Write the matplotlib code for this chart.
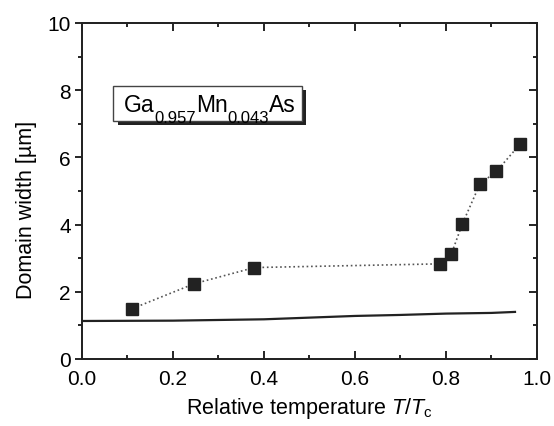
import numpy as np
import matplotlib.pyplot as plt
import matplotlib.patheffects as pe
from matplotlib.patches import Rectangle

# measured domain width vs relative temperature
t_meas = [0.111, 0.247, 0.379, 0.787, 0.812, 0.836, 0.875, 0.911, 0.963]
w_meas = [1.50, 2.24, 2.72, 2.83, 3.12, 4.01, 5.21, 5.58, 6.39]

# calculated curve (solid line)
t_calc = [0.0, 0.2, 0.4, 0.6, 0.7, 0.8, 0.9, 0.952]
w_calc = [1.13, 1.14, 1.18, 1.28, 1.31, 1.35, 1.37, 1.40]

# sample label pieces: (text, is_subscript)
label_parts = [('Ga', False), ('0.957', True), ('Mn', False), ('0.043', True), ('As', False)]

plt.rcParams['font.family'] = 'Liberation Sans'
plt.rcParams['mathtext.fontset'] = 'custom'
plt.rcParams['mathtext.rm'] = 'Liberation Sans'
plt.rcParams['mathtext.it'] = 'Liberation Sans:italic'

fig = plt.figure(figsize=(5.54, 4.27), dpi=100)
ax = fig.add_axes([0.148, 0.157, 0.821, 0.787])

ax.plot(t_meas, w_meas, ls=':', color='#555555', lw=1.2, marker='s',
        ms=9, mfc='#222222', mec='#222222', zorder=3)
ax.plot(t_calc, w_calc, '-', color='#222222', lw=1.6)

ax.set_xlim(0, 1.0)
ax.set_ylim(0, 10)
ax.set_xticks([0.0, 0.2, 0.4, 0.6, 0.8, 1.0])
ax.set_xticks(np.arange(0.1, 1.0, 0.2), minor=True)
ax.set_yticks([0, 2, 4, 6, 8, 10])
ax.set_yticks([1, 3, 5, 7, 9], minor=True)
ax.xaxis.set_major_formatter(plt.FormatStrFormatter('%.1f'))

ax.tick_params(axis='x', which='both', direction='in', top=True, labelsize=15, pad=7)
ax.tick_params(axis='x', which='major', length=6, width=1.2)
ax.tick_params(axis='x', which='minor', length=3, width=1.2)
ax.tick_params(axis='y', which='both', direction='out', labelsize=15, pad=3)
ax.tick_params(axis='y', which='major', length=5, width=1.2)
ax.tick_params(axis='y', which='minor', length=3, width=1.2)
# right axis ticks point inward
ax2 = ax.twinx()
ax2.set_ylim(0, 10)
ax2.set_yticks([0, 2, 4, 6, 8, 10])
ax2.set_yticks([1, 3, 5, 7, 9], minor=True)
ax2.tick_params(axis='y', which='both', direction='in', labelright=False, width=1.2)
ax2.tick_params(axis='y', which='major', length=6)
ax2.tick_params(axis='y', which='minor', length=3)

for a in (ax, ax2):
    for s in a.spines.values():
        s.set_linewidth(1.3)
        s.set_color('#222222')

ax.set_xlabel(r'Relative temperature $\it{T/T}_{\rm c}$', fontsize=15.5, labelpad=5)
ax.set_ylabel('Domain width [\u00b5m]', fontsize=15.5)
ax.yaxis.set_label_coords(-0.10, 0.446)

# framed sample label with drop shadow
box = Rectangle((0.068, 7.08), 0.415, 1.04, fc='white', ec='#444444', lw=1, zorder=4)
box.set_path_effects([pe.SimplePatchShadow(offset=(3.3, -3), shadow_rgbFace='#222222', alpha=1.0),
                      pe.Normal()])
ax.add_patch(box)

base_y = 7.39
prev = None
for txt, sub in label_parts:
    size = 12 if sub else 16.5
    dy = -8.4 if sub else 0
    if prev is None:
        prev = ax.text(0.092, base_y, txt, fontsize=size, ha='left', va='baseline', zorder=5)
    else:
        prev = ax.annotate(txt, xy=(1, base_y), xycoords=(prev, 'data'),
                           xytext=(0, dy), textcoords='offset points',
                           fontsize=size, ha='left', va='baseline', zorder=5)

fig.savefig('out.png', dpi=100)
